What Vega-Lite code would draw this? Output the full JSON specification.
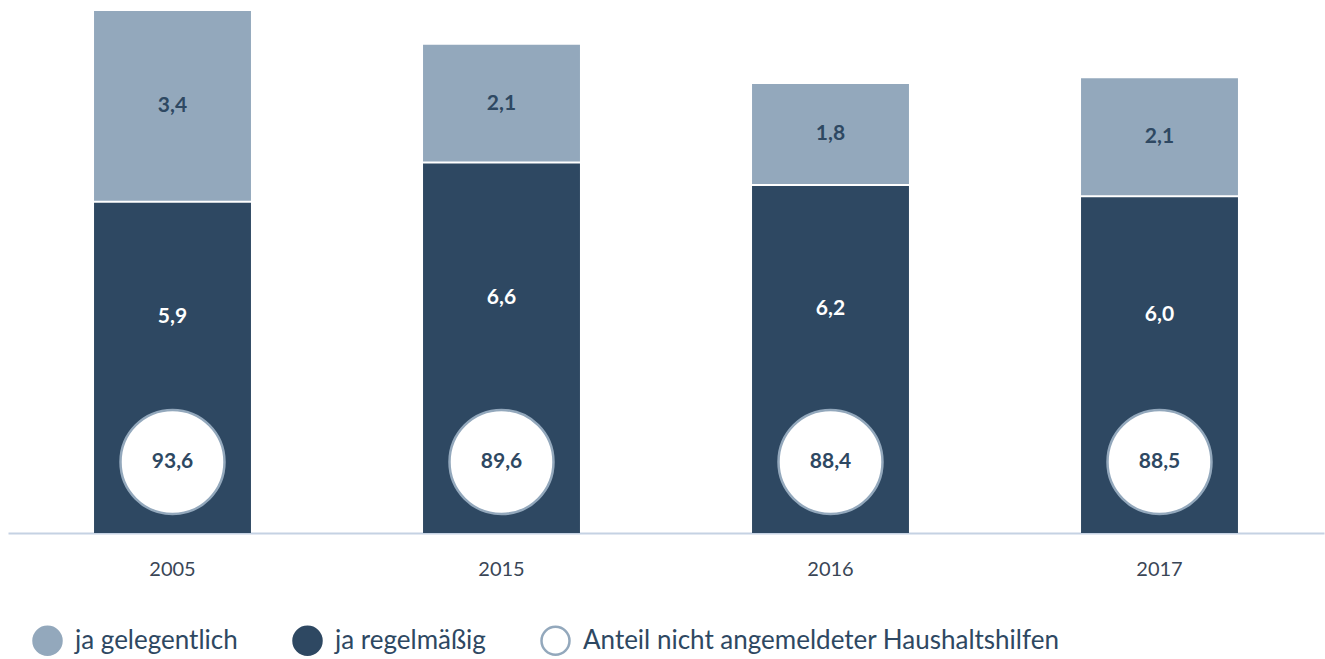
{
  "$schema": "https://vega.github.io/schema/vega-lite/v6.json",
  "autosize": "none",
  "width": 1316,
  "height": 522,
  "padding": {"left": 8, "top": 11, "right": 1, "bottom": 126},
  "background": "white",
  "config": {
    "locale": {"number": {"decimal": ",", "thousands": ".", "grouping": [3], "currency": ["", " €"]}},
    "font": "Source Sans Pro, Lato, sans-serif",
    "view": {"stroke": null}
  },
  "datasets": {
    "bars": [
      {"jahr": "2005", "kategorie": "ja regelmäßig", "wert": 5.9, "ord": 1},
      {"jahr": "2005", "kategorie": "ja gelegentlich", "wert": 3.4, "ord": 2},
      {"jahr": "2015", "kategorie": "ja regelmäßig", "wert": 6.6, "ord": 1},
      {"jahr": "2015", "kategorie": "ja gelegentlich", "wert": 2.1, "ord": 2},
      {"jahr": "2016", "kategorie": "ja regelmäßig", "wert": 6.2, "ord": 1},
      {"jahr": "2016", "kategorie": "ja gelegentlich", "wert": 1.8, "ord": 2},
      {"jahr": "2017", "kategorie": "ja regelmäßig", "wert": 6.0, "ord": 1},
      {"jahr": "2017", "kategorie": "ja gelegentlich", "wert": 2.1, "ord": 2}
    ],
    "anteil": [
      {"jahr": "2005", "anteil": 93.6},
      {"jahr": "2015", "anteil": 89.6},
      {"jahr": "2016", "anteil": 88.4},
      {"jahr": "2017", "anteil": 88.5}
    ]
  },
  "encoding": {
    "x": {
      "field": "jahr", "type": "nominal",
      "scale": {"paddingInner": 0.523, "paddingOuter": 0.2615},
      "axis": {
        "title": null, "labelAngle": 0, "ticks": false, "grid": false,
        "domainColor": "#c5d2e3", "domainWidth": 2,
        "labelFontSize": 20, "labelColor": "#3a4656", "labelPadding": 26,
        "labelFont": "Source Sans Pro, Lato, sans-serif"
      }
    }
  },
  "layer": [
    {
      "data": {"name": "bars"},
      "mark": {"type": "bar"},
      "encoding": {
        "y": {"field": "wert", "type": "quantitative", "stack": "zero",
              "scale": {"domain": [0, 9.3], "nice": false}, "axis": null},
        "order": {"field": "ord", "type": "quantitative"},
        "fill": {
          "field": "kategorie", "type": "nominal",
          "scale": {
            "domain": ["ja gelegentlich", "ja regelmäßig", "Anteil nicht angemeldeter Haushaltshilfen"],
            "range": ["#93a8bc", "#2e4862", "#ffffff"]
          },
          "legend": {
            "title": null, "orient": "none", "direction": "horizontal",
            "legendX": 24, "legendY": 614,
            "symbolType": "circle", "symbolSize": 784,
            "labelFontSize": 26, "labelColor": "#2e4862", "labelOffset": 12,
            "columnPadding": 50, "padding": 0,
            "labelFont": "Source Sans Pro, Lato, sans-serif",
            "labelLimit": 700,
            "encode": {
              "symbols": {
                "update": {
                  "stroke": [
                    {"test": "datum.value === 'ja regelmäßig'", "value": "#2e4862"},
                    {"value": "#93a8bc"}
                  ],
                  "strokeWidth": {"value": 2.5}
                }
              }
            }
          }
        }
      }
    },
    {
      "data": {"name": "bars"},
      "transform": [{"filter": "datum.kategorie === 'ja regelmäßig'"}],
      "mark": {"type": "tick", "orient": "horizontal", "color": "white", "thickness": 2, "size": 158, "opacity": 1},
      "encoding": {
        "y": {"field": "wert", "type": "quantitative"}
      }
    },
    {
      "data": {"name": "bars"},
      "mark": {"type": "text", "fontSize": 21, "fontWeight": "bold", "color": "#2e4862", "baseline": "middle"},
      "encoding": {
        "y": {"field": "wert", "type": "quantitative", "stack": "zero", "bandPosition": 0.5},
        "order": {"field": "ord", "type": "quantitative"},
        "text": {
          "condition": {"test": "datum.kategorie === 'ja gelegentlich'", "field": "wert", "type": "quantitative", "format": ".1f"},
          "value": ""
        }
      }
    },
    {
      "data": {"name": "bars"},
      "mark": {"type": "text", "fontSize": 21, "fontWeight": "bold", "color": "white", "baseline": "middle", "dy": -50},
      "encoding": {
        "y": {"field": "wert", "type": "quantitative", "stack": "zero", "bandPosition": 0.5},
        "order": {"field": "ord", "type": "quantitative"},
        "text": {
          "condition": {"test": "datum.kategorie === 'ja regelmäßig'", "field": "wert", "type": "quantitative", "format": ".1f"},
          "value": ""
        }
      }
    },
    {
      "data": {"name": "anteil"},
      "mark": {"type": "point", "shape": "circle", "filled": true, "fill": "white", "stroke": "#93a8bc", "strokeWidth": 2.5, "size": 10816, "opacity": 1},
      "encoding": {
        "y": {"datum": 1.265, "type": "quantitative"}
      }
    },
    {
      "data": {"name": "anteil"},
      "mark": {"type": "text", "fontSize": 21, "fontWeight": "bold", "color": "#2e4862", "baseline": "middle"},
      "encoding": {
        "y": {"datum": 1.265, "type": "quantitative"},
        "text": {"field": "anteil", "type": "quantitative", "format": ".1f"}
      }
    }
  ]
}
